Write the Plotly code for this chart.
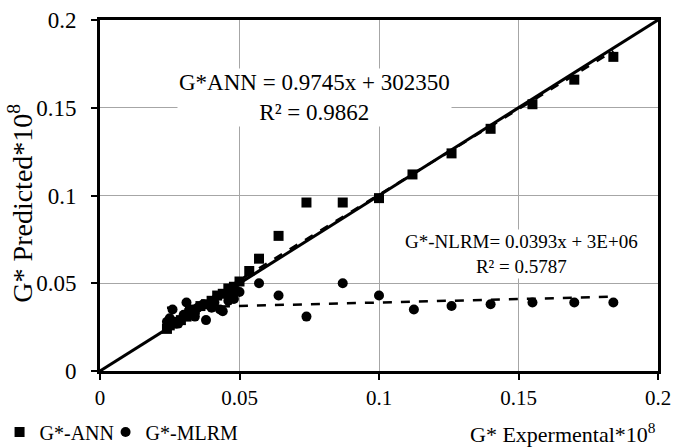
import plotly.graph_objects as go

# ---- data ----
ann_x = [0.024, 0.025, 0.026, 0.027, 0.029, 0.031, 0.032, 0.034, 0.036, 0.038,
         0.040, 0.042, 0.044, 0.046, 0.048, 0.050, 0.0535, 0.057, 0.064, 0.074,
         0.087, 0.100, 0.112, 0.126, 0.140, 0.155, 0.170, 0.184]
ann_y = [0.024, 0.026, 0.027, 0.028, 0.029, 0.031, 0.033, 0.035, 0.037, 0.038,
         0.040, 0.043, 0.044, 0.047, 0.048, 0.051, 0.057, 0.064, 0.077, 0.096,
         0.096, 0.0985, 0.112, 0.124, 0.138, 0.152, 0.166, 0.179]

mlrm_x = [0.024, 0.025, 0.026, 0.028, 0.030, 0.031, 0.032, 0.034, 0.035, 0.037,
          0.038, 0.040, 0.041, 0.043, 0.044, 0.046, 0.047, 0.048, 0.050, 0.057,
          0.064, 0.074, 0.087, 0.100, 0.1125, 0.126, 0.140, 0.155, 0.170, 0.184]
mlrm_y = [0.028, 0.030, 0.035, 0.027, 0.032, 0.039, 0.034, 0.031, 0.036, 0.038,
          0.029, 0.036, 0.039, 0.035, 0.034, 0.040, 0.044, 0.041, 0.045, 0.050,
          0.043, 0.031, 0.050, 0.043, 0.035, 0.037, 0.038, 0.039, 0.039, 0.039]

# 1:1 reference line
ref_line = [0.0, 0.2]

# trend line coefficients (intercept scaled by 1e-8)
ann_slope, ann_icpt = 0.9745, 302350e-8
mlrm_slope, mlrm_icpt = 0.0393, 0.0351

tick_vals = [0, 0.05, 0.1, 0.15, 0.2]
tick_text = ["0", "0.05", "0.1", "0.15", "0.2"]

FONT = "Liberation Serif"

fig = go.Figure()

# 1:1 line
fig.add_trace(go.Scatter(x=ref_line, y=ref_line, mode="lines",
                         line=dict(color="black", width=3), showlegend=False,
                         hoverinfo="skip"))

# trend lines
ax = [min(ann_x), max(ann_x)]
fig.add_trace(go.Scatter(x=ax, y=[ann_slope * v + ann_icpt for v in ax], mode="lines",
                         line=dict(color="black", width=2.5, dash="dash"),
                         showlegend=False, hoverinfo="skip"))
mx = [min(mlrm_x), max(mlrm_x)]
fig.add_trace(go.Scatter(x=mx, y=[mlrm_slope * v + mlrm_icpt for v in mx], mode="lines",
                         line=dict(color="black", width=2.5, dash="dash"),
                         showlegend=False, hoverinfo="skip"))

fig.add_trace(go.Scatter(x=ann_x, y=ann_y, mode="markers", name="G*-ANN",
                         marker=dict(symbol="square", size=10, color="black"),
                         legend="legend"))
fig.add_trace(go.Scatter(x=mlrm_x, y=mlrm_y, mode="markers", name="G*-MLRM",
                         marker=dict(symbol="circle", size=10, color="black"),
                         legend="legend2"))

axis_common = dict(
    range=[0, 0.2], tickvals=tick_vals, ticktext=tick_text,
    showgrid=True, gridcolor="#a6a6a6", gridwidth=1,
    showline=True, linecolor="black", linewidth=3, mirror=True,
    ticks="outside", ticklen=6, tickwidth=2, tickcolor="black",
    zeroline=False, automargin=False,
)

legend_common = dict(orientation="h", xanchor="left", y=-0.118, yanchor="top",
                     font=dict(family=FONT, size=20, color="black"),
                     itemwidth=30, bgcolor="rgba(0,0,0,0)")

fig.update_layout(
    width=674, height=448,
    margin=dict(l=100, r=16, t=20, b=77, autoexpand=False),
    paper_bgcolor="white", plot_bgcolor="white",
    font=dict(family=FONT, color="black"),
    xaxis=dict(**axis_common, tickfont=dict(family=FONT, size=21, color="black")),
    yaxis=dict(**axis_common, tickfont=dict(family=FONT, size=23, color="black"),
               ticklabelstandoff=10),
    showlegend=True,
    legend=dict(**legend_common, x=-0.18),
    legend2=dict(**legend_common, x=0.01),
    annotations=[
        dict(x=0.077, y=0.156, xref="x", yref="y",
             text="G*ANN = 0.9745x + 302350<br>R² = 0.9862",
             showarrow=False, align="center", bgcolor="white",
             font=dict(family=FONT, size=23, color="black")),
        dict(x=0.151, y=0.0667, xref="x", yref="y",
             text="G*-NLRM= 0.0393x + 3E+06<br>R² = 0.5787",
             showarrow=False, align="center", bgcolor="white",
             font=dict(family=FONT, size=19, color="black")),
        dict(x=1.0, y=-0.177, xref="paper", yref="paper", xanchor="right", yanchor="middle",
             text="G* Expermental*10<sup>8</sup>", showarrow=False,
             font=dict(family=FONT, size=22, color="black")),
        dict(x=-0.142, y=0.479, xref="paper", yref="paper", textangle=-90,
             xanchor="center", yanchor="middle",
             text="G* Predicted*10<sup>8</sup>", showarrow=False,
             font=dict(family=FONT, size=28, color="black")),
    ],
)

fig.write_html("out.html")
